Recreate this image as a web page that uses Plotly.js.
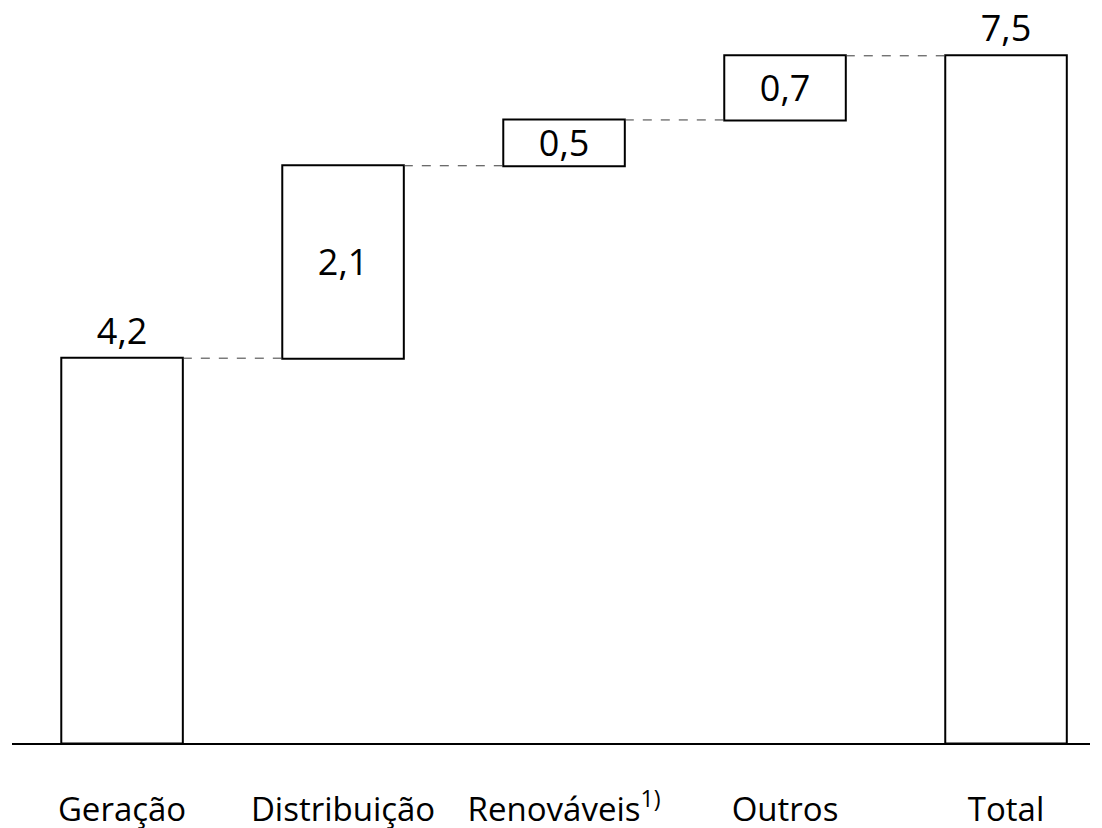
<!DOCTYPE html>
<html>
<head>
<meta charset="utf-8">
<script src="https://cdn.plot.ly/plotly-3.0.1.min.js"></script>
<style>
  html, body { margin: 0; padding: 0; background: #ffffff; }
  #chart { width: 1102px; height: 828px; }
</style>
</head>
<body>
<div id="chart"></div>
<script>
// Waterfall: starting segment, increments and the resulting total
const categories = ["Geração", "Distribuição", "Renováveis<sup>1)</sup>", "Outros", "Total"];
const values = [4.2, 2.1, 0.5, 0.7, 7.5];
const measures = ["absolute", "relative", "relative", "relative", "total"];
const labelPositions = ["outside", "inside", "inside", "inside", "outside"];

// Portuguese decimal comma
const valueLabels = values.map(v => v.toFixed(1).replace(".", ","));

const fontFamily = "'Open Sans', Lato, sans-serif";

const barStyle = { marker: { color: "#ffffff", line: { color: "#000000", width: 2 } } };

const trace = {
  type: "waterfall",
  x: categories,
  y: values.map((v, i) => measures[i] === "total" ? 0 : v),
  measure: measures,
  text: valueLabels,
  textposition: labelPositions,
  textinfo: "text",
  insidetextanchor: "middle",
  constraintext: "none",
  textfont: { family: fontFamily, size: 36, color: "#000000" },
  width: 0.55,
  increasing: barStyle,
  decreasing: barStyle,
  totals: barStyle,
  connector: { mode: "between", line: { color: "#3a3a3a", width: 1, dash: "dash" } },
  hoverinfo: "none",
  cliponaxis: false
};

const layout = {
  width: 1102,
  height: 828,
  margin: { l: 12, r: 12, t: 10, b: 85 },
  paper_bgcolor: "#ffffff",
  plot_bgcolor: "#ffffff",
  showlegend: false,
  separators: ",.",
  font: { family: fontFamily, size: 33, color: "#000000" },
  xaxis: {
    type: "category",
    range: [-0.498, 4.38],
    showline: true,
    linecolor: "#000000",
    linewidth: 2,
    showgrid: false,
    zeroline: false,
    ticks: "",
    ticklabelstandoff: 36,
    tickfont: { family: fontFamily, size: 33, color: "#000000" },
    fixedrange: true
  },
  yaxis: {
    visible: false,
    range: [0, 8],
    showgrid: false,
    zeroline: false,
    fixedrange: true
  }
};

Plotly.newPlot("chart", [trace], layout, { staticPlot: true, displayModeBar: false });
</script>
</body>
</html>
